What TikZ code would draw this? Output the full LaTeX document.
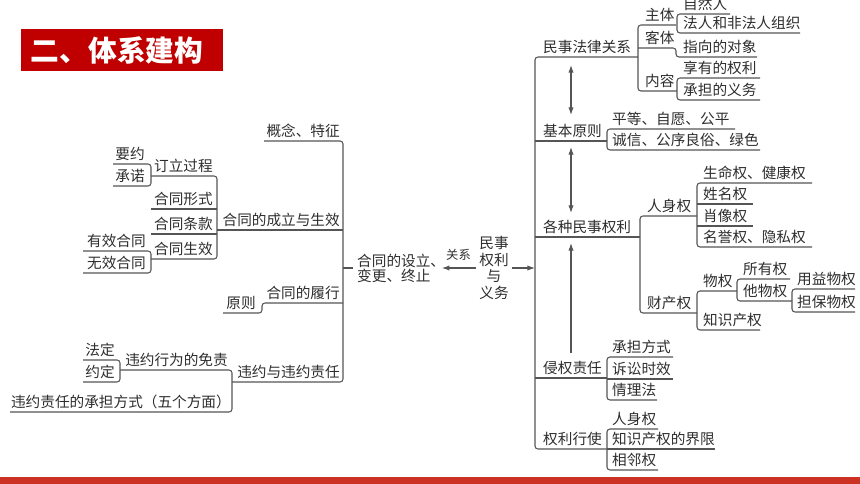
\documentclass[tikz,border=0pt]{standalone}
\usepackage{fontspec}
\setmainfont{Noto Sans CJK SC}
\usetikzlibrary{arrows.meta}
\definecolor{titlered}{RGB}{192,0,0}
\definecolor{barred}{RGB}{204,50,36}
\definecolor{linegray}{RGB}{85,85,85}
\definecolor{textgray}{RGB}{45,45,45}

\begin{document}
\begin{tikzpicture}[x=0.03cm, y=-0.03cm,
        lbl/.style={anchor=base west, inner sep=0pt, yshift=0.135cm, text=textgray, font=\fontsize{12.5}{14}\selectfont},
        lblr/.style={lbl, anchor=base east},
        br/.style={draw=linegray, line width=0.9pt, rounded corners=2.5pt},
        arr/.style={draw=linegray, line width=0.9pt, -{Latex[length=6.5pt,width=4.5pt]}},
        darr/.style={arr, {Latex[length=6.5pt,width=4.5pt]}-{Latex[length=6.5pt,width=4.5pt]}}
    ]
        \useasboundingbox (0,0) rectangle (860,484);

        % Title
        \fill[titlered] (21,29) rectangle (223,71);
        \node[font=\fontsize{24.5}{28}\selectfont\bfseries, text=white, inner sep=0pt] (title) at (117,50) {二、体系建构};

        % Bottom bar
        \fill[barred] (0,477) rectangle (860,484);

        % Centre
        \node[text=textgray, inner sep=0pt, align=center, font=\fontsize{12.5}{14.2}\selectfont] (msqy) at (494,268) {民事\\权利\\与\\义务};
        \node[text=textgray, inner sep=0pt, anchor=west, align=left, font=\fontsize{12.5}{12.8}\selectfont] (htsl) at (357,268) {合同的设立、\\变更、终止};
        \node[lbl, font=\fontsize{10.5}{12}\selectfont] (gx) at (446,264) {关系};
        \coordinate (lspine) at (343,268);
        \coordinate (rspine) at (535,268);
        \draw[arr] ([xshift=-3pt]msqy.west) -- ([xshift=-3pt]htsl.east);
        \draw[arr] ([xshift=3pt]msqy.east) -- (rspine);
        \draw[br] (lspine) -- ([xshift=-3pt]htsl.west);

        % Right spine
        \draw[br] (638,57) -- (535,57) -- (535,449) -- (607,449);
        \draw[br] (535,141) -- (607,141);
        \draw[br] (535,237) -- (640,237);
        \draw[br] (535,378) -- (607,378);
        \node[lbl] (mslaw) at (543,57) {民事法律关系};
        \node[lbl] (jbyz) at (543,141) {基本原则};
        \node[lbl] (gzql) at (543,237) {各种民事权利};
        \node[lbl] (qqzr) at (543,378) {侵权责任};
        \node[lbl] (qlxs) at (543,449) {权利行使};

        % Arrows between the branches
        \draw[darr] (571,65) -- (571,115);
        \draw[darr] (571,147) -- (571,213);
        \draw[arr] (571,353) -- (571,243);

        % 民事法律关系
        \draw[br] (676,25) -- (638,25) -- (638,91) -- (677,91);
        \draw[br] (638,48) -- (676,48) -- (676,57) -- (757,57);
        \node[lbl] (zt) at (645,25) {主体};
        \node[lbl] (kt) at (645,48) {客体};
        \node[lbl] (nr) at (645,91) {内容};
        \draw[br] (730,14) -- (677,14) -- (677,33) -- (800,33);
        \node[lbl] (zrr) at (683,14) {自然人};
        \node[lbl] (frzz) at (683,33) {法人和非法人组织};
        \node[lbl] (dx) at (683,57) {指向的对象};
        \draw[br] (760,78) -- (677,78) -- (677,100) -- (760,100);
        \node[lbl] (xyql) at (683,78) {享有的权利};
        \node[lbl] (cdyw) at (683,100) {承担的义务};

        % 基本原则
        \draw[br] (735,129) -- (607,129) -- (607,150) -- (760,150);
        \node[lbl] (pd) at (612,129) {平等、自愿、公平};
        \node[lbl] (cx) at (612,150) {诚信、公序良俗、绿色};

        % 各种民事权利
        \draw[br] (697,216) -- (640,216) -- (640,313) -- (697,313);
        \node[lbl] (rsq) at (647,216) {人身权};
        \node[lbl] (ccq) at (647,313) {财产权};
        \draw[br] (812,183) -- (697,183) -- (697,247) -- (812,247);
        \draw[br] (697,204) -- (753,204);
        \draw[br] (697,226) -- (753,226);
        \foreach \t/\y/\n in {生命权、健康权/183/smq, 姓名权/204/xmq, 肖像权/226/xxq, 名誉权、隐私权/247/myq} {
            \node[lbl] (\n) at (703,\y) {\t};
        }
        \draw[br] (737,291) -- (697,291) -- (697,330) -- (760,330);
        \node[lbl] (wq) at (703,291) {物权};
        \node[lbl] (zscq) at (703,330) {知识产权};
        \draw[br] (790,279) -- (737,279) -- (737,301) -- (792,301);
        \node[lbl] (syq) at (743,279) {所有权};
        \node[lbl] (twq) at (743,301) {他物权};
        \draw[br] (855,289) -- (792,289) -- (792,312) -- (855,312);
        \node[lbl] (yywq) at (797,289) {用益物权};
        \node[lbl] (dbwq) at (797,312) {担保物权};

        % 侵权责任
        \draw[br] (673,357) -- (607,357) -- (607,400) -- (657,400);
        \draw[br] (607,379) -- (673,379);
        \foreach \t/\y/\n in {承担方式/357/cdfs, 诉讼时效/379/sssx, 情理法/400/qlf} {
            \node[lbl] (\n) at (612,\y) {\t};
        }

        % 权利行使
        \draw[br] (658,429) -- (607,429) -- (607,470) -- (658,470);
        \draw[br] (607,449) -- (715,449);
        \foreach \t/\y/\n in {人身权/429/rsq2, 知识产权的界限/449/jx, 相邻权/470/xlq} {
            \node[lbl] (\n) at (612,\y) {\t};
        }

        % Left spine
        \draw[br] (264,141) -- (343,141) -- (343,382) -- (232,382);
        \draw[br] (217,230) -- (343,230);
        \node[lblr] (gn) at (340,141) {概念、特征};
        \node[lblr] (clsx) at (340,230) {合同的成立与生效};
        \node[lblr] (lx) at (340,303) {合同的履行};
        \node[lblr] (wyzr) at (340,382) {违约与违约责任};

        % 合同的成立与生效
        \draw[br] (151,176) -- (217,176) -- (217,259) -- (151,259);
        \draw[br] (151,209) -- (217,209);
        \draw[br] (151,234) -- (217,234);
        \foreach \t/\y/\n in {订立过程/176/dlgc, 合同形式/209/htxs, 合同条款/234/httk, 合同生效/259/htsx} {
            \node[lblr] (\n) at (213,\y) {\t};
        }
        \draw[br] (113,164) -- (151,164) -- (151,186) -- (113,186);
        \node[lblr] (yy) at (145,164) {要约};
        \node[lblr] (cn) at (145,186) {承诺};
        \draw[br] (83,251) -- (151,251) -- (151,273) -- (83,273);
        \node[lblr] (yxht) at (146,251) {有效合同};
        \node[lblr] (wxht) at (146,273) {无效合同};

        % 合同的履行
        \draw[br] (343,303) -- (262,303) -- (262,313) -- (223,313);
        \node[lblr] (yz) at (256,313) {原则};

        % 违约与违约责任
        \draw[br] (120,370) -- (232,370) -- (232,412) -- (10,412);
        \node[lblr] (mz) at (228,370) {违约行为的免责};
        \node[lblr] (cdfs2) at (231,412) {违约责任的承担方式（五个方面）};
        \draw[br] (83,360) -- (120,360) -- (120,382) -- (83,382);
        \node[lblr] (fd) at (115,360) {法定};
        \node[lblr] (yd) at (115,382) {约定};
    \end{tikzpicture}
\end{document}
